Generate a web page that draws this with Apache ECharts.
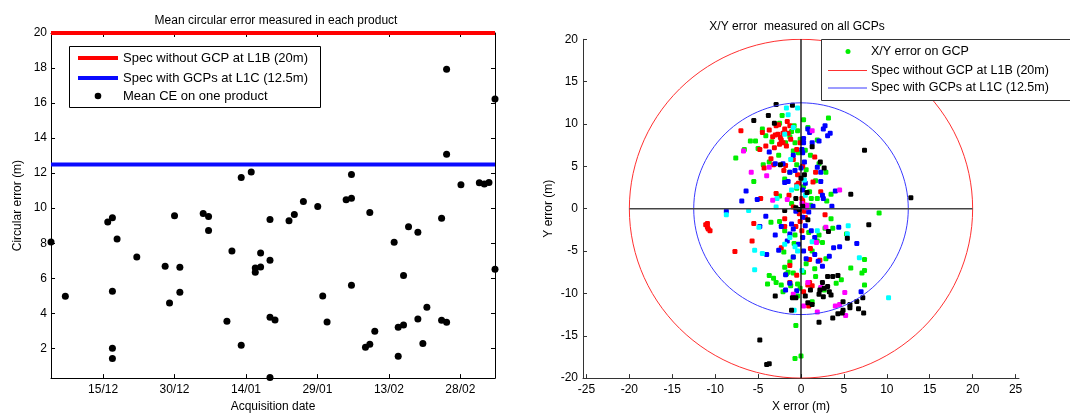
<!DOCTYPE html>
<html><head><meta charset="utf-8">
<script src="https://cdn.jsdelivr.net/npm/echarts@6/dist/echarts.min.js"></script>
<style>html,body{margin:0;padding:0;background:#fff;}#c{width:1070px;height:418px;}</style>
</head><body><div id="c"></div>
<script>
// ---------- Left chart data ----------
// Acquisition dates as day offsets from 15/12
const productDays = [-10.93,-7.92,0.98,1.96,2.94,1.96,1.96,1.96,7.08,13.03,13.95,15.0,16.12,16.12,21.02,22.14,22.14,26.0,27.05,29.0,29.0,31.1,31.95,31.95,33.07,33.07,35.04,35.04,35.04,36.09,35.04,39.03,40.15,42.05,45.06,46.11,47.02,51.02,52.14,52.14,52.14,55.08,55.99,55.99,57.04,61.1,61.95,61.95,63.07,63.07,64.12,66.08,66.08,67.13,67.97,71.06,71.06,72.11,72.11,72.11,75.12,78.98,80.03,81.0,82.27,82.27];
const productCE = [8.07,4.97,9.21,9.46,8.24,5.26,2.0,1.42,7.21,6.68,4.58,9.57,6.63,5.2,9.7,9.52,8.72,3.55,7.56,2.17,11.75,12.07,6.34,6.58,6.64,7.44,7.03,9.36,3.78,3.61,0.34,9.28,9.64,10.38,10.1,4.98,3.5,10.48,10.56,11.92,5.6,2.06,2.23,9.76,2.98,8.06,1.55,3.2,3.33,6.16,8.94,8.62,3.67,2.28,4.34,9.42,3.6,3.49,17.93,13.08,11.34,11.45,11.38,11.47,16.23,6.52];
const dateTickDays = [0,15,30,45,60,75];
const dateTickLabels = ['15/12','30/12','14/01','29/01','13/02','28/02'];
const ceTicks = [2,4,6,8,10,12,14,16,18,20];
const specL1B = 20;
const specL1C = 12.5;

// ---------- Right chart data (X/Y error in m) ----------
const gcpGreen = [[3.2,10.7],[0.3,10.5],[-2.2,11.0],[-2.5,10.1],[-4.5,9.4],[-4.1,8.6],[-5.3,8.0],[-5.9,8.0],[-6.6,7.0],[-7.6,6.0],[-5.0,7.1],[-3.4,7.9],[-1.1,9.1],[-0.8,9.8],[-0.4,9.2],[-1.3,8.5],[-1.8,7.8],[-0.7,7.8],[-0.1,8.2],[-0.9,6.8],[-0.3,6.6],[0.5,6.9],[1.9,8.1],[1.1,6.3],[2.1,5.3],[2.9,4.3],[1.7,3.3],[3.5,1.7],[3.0,0.9],[1.9,1.2],[1.0,2.0],[0.3,2.6],[-0.5,2.4],[-1.9,3.5],[-1.3,4.3],[-2.6,6.3],[-3.7,5.5],[-4.4,5.2],[-5.5,3.2],[-2.5,1.5],[1.1,0.4],[9.1,-0.5],[-2.5,-1.5],[-3.5,-1.6],[-1.9,-2.6],[-0.7,-3.1],[2.1,-3.1],[2.8,-2.3],[3.5,-1.2],[3.7,-2.3],[1.9,-3.8],[2.5,-4.0],[1.3,-5.0],[2.9,-5.9],[5.3,-3.0],[5.8,-7.0],[7.4,-6.0],[7.1,-7.6],[7.4,-7.3],[7.4,-9.0],[4.7,-8.4],[4.1,-8.8],[2.7,-9.6],[1.7,-8.0],[1.6,-7.1],[0.3,-7.5],[-0.9,-7.6],[-1.5,-7.5],[-1.9,-6.9],[-1.7,-7.7],[-3.7,-7.9],[-3.2,-8.2],[-2.9,-8.7],[-2.3,-9.0],[-3.9,-8.9],[-2.1,-9.8],[-1.2,-9.1],[-0.4,-8.9],[-0.1,-9.4],[-0.6,-13.8],[-0.7,-17.7],[0.0,-17.4],[-1.3,-6.3],[-0.9,-5.7],[-2.0,-5.1],[0.6,4.6],[-0.5,5.2],[0.8,9.6],[1.2,1.2],[-1.1,0.6],[0.9,-2.8],[-0.8,-4.1],[0.6,-6.5],[-0.4,-10.3],[1.3,-11.0]];
const gcpRed = [[-7.0,9.2],[-4.5,9.0],[-3.7,9.3],[-3.3,8.5],[-2.7,8.8],[-2.4,8.4],[-2.1,8.9],[-2.9,9.8],[-2.6,9.9],[-1.6,10.3],[-1.3,9.8],[-1.9,9.4],[-1.5,8.9],[-1.2,8.2],[-4.1,7.4],[-4.8,7.0],[-2.1,7.8],[-3.1,7.2],[-1.7,7.4],[-3.5,5.9],[-4.3,4.8],[-3.2,5.2],[-2.0,4.5],[-1.8,5.1],[-0.9,5.8],[-0.5,7.0],[-0.1,7.8],[1.6,6.1],[1.7,4.3],[1.4,3.15],[-4.7,1.2],[-2.9,1.8],[-0.5,2.8],[-1.4,1.6],[0.1,1.2],[2.3,2.0],[0.5,0.4],[-0.9,0.2],[-11.1,-1.9],[-10.9,-2.2],[-10.6,-2.6],[-10.9,-1.75],[-10.8,-2.4],[-5.5,-1.75],[-5.7,-3.8],[-7.7,-5.05],[-1.9,-2.1],[-0.6,-2.1],[0.1,-2.6],[-0.1,-1.5],[0.5,-1.05],[2.8,-0.7],[1.1,-4.7],[-2.3,-4.6],[1.0,-6.0],[2.2,-6.1],[-1.3,-6.7],[-0.5,-7.85],[-1.3,-8.7],[1.0,-8.7],[1.3,-9.1],[0.8,-9.0],[0.9,-11.5],[0.3,-9.8],[-1.9,-1.2],[0.2,5.0],[-0.3,3.0],[0.4,-0.3],[-0.2,-0.6],[-2.3,8.1],[-3.0,8.7],[-2.5,7.6],[0.2,0.9],[-0.4,4.0]];
const gcpBlue = [[2.6,9.4],[2.8,9.8],[3.1,8.6],[3.4,8.9],[2.1,8.0],[0.8,9.4],[1.0,9.0],[1.3,7.8],[0.3,7.8],[0.1,7.0],[-3.7,6.7],[-0.9,6.3],[-3.0,5.3],[-2.1,5.3],[-1.3,4.3],[-0.7,4.5],[1.9,4.9],[2.3,4.3],[2.3,3.2],[-1.5,3.2],[-1.9,3.1],[4.0,2.1],[2.5,1.6],[2.6,1.2],[-5.1,1.1],[-6.9,0.9],[-6.4,2.1],[-8.7,-0.3],[-4.1,-0.9],[-4.8,-2.1],[-3.0,-3.1],[-2.3,-2.1],[-1.1,-1.8],[-0.9,-2.4],[-1.3,-3.0],[0.2,-3.4],[1.2,-2.6],[1.6,-3.4],[-1.6,-3.8],[-2.6,-4.9],[-0.3,-4.2],[1.6,-5.4],[0.3,-5.0],[-0.9,-5.7],[2.0,-6.2],[2.5,-6.8],[3.3,-5.6],[3.8,-4.6],[4.5,-4.5],[6.5,-4.1],[4.4,-2.2],[3.6,0.3],[-4.0,-5.4],[-1.8,-7.8],[-1.3,-8.8],[-1.8,-9.6],[-0.5,-9.7],[0.6,-5.9],[7.0,-9.8],[0.3,8.3],[0.2,6.6],[0.4,5.5],[0.0,4.8],[0.5,3.0],[0.2,2.2],[0.6,0.2],[0.9,-0.4],[0.2,-1.0],[1.4,0.3],[-0.6,-0.3],[0.5,-2.0]];
const gcpCyan = [[-1.7,11.9],[-0.4,11.9],[-1.5,11.1],[-0.9,9.6],[-1.9,8.8],[-2.8,1.2],[-1.1,2.2],[-0.5,2.6],[-2.9,0.2],[0.5,1.6],[-8.7,-0.7],[-6.1,-0.2],[-4.9,-2.2],[-5.4,-4.9],[-5.4,-7.2],[-4.5,-5.3],[5.5,-2.0],[5.4,-3.0],[6.8,-5.8],[10.2,-10.5],[1.9,-2.6],[1.3,-3.9],[-0.7,-4.5],[-0.4,-5.0],[-1.3,-3.4],[-0.8,-12.0],[0.1,-7.3],[-1.9,-4.2],[-1.2,5.8],[0.4,3.4]];
const gcpMagenta = [[-5.8,4.3],[-6.7,6.8],[-4.0,3.9],[-3.3,1.0],[-1.6,1.1],[4.5,2.2],[-3.7,4.9],[0.7,0.4],[0.1,0.6],[1.3,9.2],[2.9,-2.2],[2.3,-9.3],[0.8,-8.7],[5.1,-9.9],[4.0,-11.5],[4.5,-11.3],[5.2,-12.6],[1.9,-12.2],[-0.9,-10.1],[0.3,-11.5],[1.8,-4.0],[0.6,0.1]];
const gcpBlack = [[-2.9,12.3],[-1.0,12.2],[-5.5,10.4],[-3.8,11.0],[-3.1,10.1],[7.4,6.9],[1.3,7.3],[2.25,5.5],[2.7,4.8],[-2.4,5.2],[0.4,4.0],[0.0,3.6],[5.8,1.7],[12.8,1.3],[0.7,1.9],[-0.6,1.2],[-1.9,-0.2],[-0.6,0.1],[7.9,-1.9],[3.2,-2.7],[5.4,-3.5],[0.8,-1.3],[3.1,-8.0],[3.7,-8.0],[4.3,-7.9],[2.5,-8.7],[2.2,-9.6],[2.7,-9.4],[3.1,-9.2],[3.3,-9.8],[3.5,-10.2],[2.6,-10.4],[2.1,-10.1],[1.1,-9.6],[0.5,-10.3],[-1.0,-10.5],[-0.6,-10.5],[-3.0,-10.3],[0.8,-11.1],[1.3,-11.3],[4.9,-11.0],[5.7,-11.3],[5.7,-11.7],[6.5,-10.95],[7.2,-10.5],[6.7,-11.8],[7.3,-12.3],[4.3,-12.4],[4.8,-12.3],[3.7,-12.9],[4.9,-12.0],[-1.1,-12.0],[2.1,-13.4],[-4.8,-15.5],[-4.0,-18.4],[-3.7,-18.3],[0.2,0.3],[-0.2,-0.1]];
const xyTicks = [-25,-20,-15,-10,-5,0,5,10,15,20,25];
const specRadii = [20, 12.5];

// ---------- build ----------
const FONT = 'Liberation Sans, Arial, sans-serif';
const xMin = Math.min(...productDays), xMax = Math.max(...productDays);
const ceMin = 0.3;
function circle(r){const p=[];for(let i=0;i<=120;i++){const a=i/120*2*Math.PI;p.push([r*Math.cos(a), r*Math.sin(a)]);}return p;}
const axisCommon = {axisLine:{onZero:false,lineStyle:{color:'#000',width:1}}, splitLine:{show:false},
  axisLabel:{color:'#000',fontSize:12,fontFamily:FONT}, nameTextStyle:{color:'#000',fontSize:12,fontFamily:FONT}};
const axisLineGray = {onZero:false,lineStyle:{color:'#333',width:1}};
function sc(data,color){return {type:'scatter',xAxisIndex:2,yAxisIndex:2,data:data,symbol:'roundRect',symbolSize:5,itemStyle:{color:color,opacity:1},clip:false,silent:true};}

const chart = echarts.init(document.getElementById('c'));
chart.setOption({
  animation:false, backgroundColor:'#fff',
  title:[
    {text:'Mean circular error measured in each product', left:271, top:10, textAlign:'center', textStyle:{fontSize:12,fontWeight:'normal',color:'#000',fontFamily:FONT}},
    {text:'X/Y error  measured on all GCPs', left:792, top:16, textAlign:'center', textStyle:{fontSize:12,fontWeight:'normal',color:'#000',fontFamily:FONT}}
  ],
  grid:[{left:51,top:33,width:444,height:350},{left:583,top:39.3,width:436,height:343.4}],
  xAxis:[
    Object.assign({}, axisCommon, {type:'value',gridIndex:0,min:xMin,max:xMax,name:'Acquisition date',nameLocation:'middle',nameGap:22,
      axisTick:{inside:true,length:4,customValues:dateTickDays,lineStyle:{color:'#000'}},
      axisLabel:Object.assign({}, axisCommon.axisLabel,{margin:6,customValues:dateTickDays,formatter:v=>dateTickLabels[dateTickDays.indexOf(v)]||''})}),
    Object.assign({}, axisCommon, {type:'value',gridIndex:0,position:'top',min:xMin,max:xMax,
      axisTick:{inside:true,length:4,customValues:dateTickDays,lineStyle:{color:'#000'}},axisLabel:{show:false}}),
    Object.assign({}, axisCommon, {type:'value',gridIndex:1,min:-25.4,max:25.4,name:'X error (m)',nameLocation:'middle',nameGap:22,
      axisLine:axisLineGray,
      axisTick:{inside:true,length:4,customValues:xyTicks,lineStyle:{color:'#333'}},
      axisLabel:Object.assign({}, axisCommon.axisLabel,{margin:6,customValues:xyTicks})})
  ],
  yAxis:[
    Object.assign({}, axisCommon, {type:'value',gridIndex:0,min:ceMin,max:20,name:'Circular error (m)',nameLocation:'middle',nameGap:27,
      axisTick:{inside:true,length:4,customValues:ceTicks,lineStyle:{color:'#000'}},
      axisLabel:Object.assign({}, axisCommon.axisLabel,{margin:4,customValues:ceTicks})}),
    Object.assign({}, axisCommon, {type:'value',gridIndex:0,position:'right',min:ceMin,max:20,
      axisTick:{inside:true,length:4,customValues:ceTicks,lineStyle:{color:'#000'}},axisLabel:{show:false}}),
    Object.assign({}, axisCommon, {type:'value',gridIndex:1,min:-20,max:20,interval:5,name:'Y error (m)',nameLocation:'middle',nameGap:28,
      axisLine:axisLineGray,
      axisTick:{inside:true,length:4,lineStyle:{color:'#333'}},
      axisLabel:Object.assign({}, axisCommon.axisLabel,{margin:5})})
  ],
  series:[
    {type:'line',xAxisIndex:0,yAxisIndex:0,data:[[xMin,specL1B],[xMax,specL1B]],symbol:'none',clip:false,lineStyle:{color:'#ff0000',width:4},silent:true},
    {type:'line',xAxisIndex:0,yAxisIndex:0,data:[[xMin,specL1C],[xMax,specL1C]],symbol:'none',clip:false,lineStyle:{color:'#0a0aff',width:4},silent:true},
    {type:'scatter',xAxisIndex:0,yAxisIndex:0,data:productDays.map((d,i)=>[d,productCE[i]]),symbol:'circle',symbolSize:7,itemStyle:{color:'#000',opacity:1},clip:false,silent:true},
    sc(gcpGreen,'#00ee00'), sc(gcpRed,'#ff0000'), sc(gcpBlue,'#0000ff'), sc(gcpCyan,'#00ffff'), sc(gcpMagenta,'#ff00ff'), sc(gcpBlack,'#000000'),
    {type:'line',xAxisIndex:2,yAxisIndex:2,data:circle(specRadii[0]),symbol:'none',clip:true,lineStyle:{color:'#ff3030',width:1},silent:true},
    {type:'line',xAxisIndex:2,yAxisIndex:2,data:circle(specRadii[1]),symbol:'none',clip:true,lineStyle:{color:'#3a3aff',width:1},silent:true},
    {type:'line',xAxisIndex:2,yAxisIndex:2,data:[[-20,0],[20,0]],symbol:'none',lineStyle:{color:'#444',width:1.5},silent:true},
    {type:'line',xAxisIndex:2,yAxisIndex:2,data:[[0,-20],[0,20]],symbol:'none',lineStyle:{color:'#000',width:1.3},silent:true}
  ],
  graphic:[
    // left legend
    {type:'rect',z:100,shape:{x:69.5,y:46.5,width:251,height:61},style:{fill:'#fff',stroke:'#000',lineWidth:1}},
    {type:'line',z:101,shape:{x1:78,y1:58,x2:118,y2:58},style:{stroke:'#ff0000',lineWidth:4}},
    {type:'text',z:101,x:123,y:58,style:{text:'Spec without GCP at L1B (20m)',fill:'#000',font:'13px '+FONT,verticalAlign:'middle'}},
    {type:'line',z:101,shape:{x1:78,y1:78,x2:118,y2:78},style:{stroke:'#0a0aff',lineWidth:4}},
    {type:'text',z:101,x:123,y:78,style:{text:'Spec with GCPs at L1C (12.5m)',fill:'#000',font:'13px '+FONT,verticalAlign:'middle'}},
    {type:'circle',z:101,shape:{cx:98,cy:96,r:3.3},style:{fill:'#000'}},
    {type:'text',z:101,x:123,y:96,style:{text:'Mean CE on one product',fill:'#000',font:'13px '+FONT,verticalAlign:'middle'}},
    // right legend
    {type:'rect',z:100,shape:{x:821.5,y:39.5,width:260,height:61},style:{fill:'#fff',stroke:'#333',lineWidth:1}},
    {type:'circle',z:101,shape:{cx:848,cy:51.5,r:2.5},style:{fill:'#00ee00'}},
    {type:'text',z:101,x:871,y:51.5,style:{text:'X/Y error on GCP',fill:'#000',font:'12.5px '+FONT,verticalAlign:'middle'}},
    {type:'line',z:101,shape:{x1:828,y1:70.5,x2:867,y2:70.5},style:{stroke:'#ff3030',lineWidth:1}},
    {type:'text',z:101,x:871,y:70.5,style:{text:'Spec without GCP at L1B (20m)',fill:'#000',font:'12.5px '+FONT,verticalAlign:'middle'}},
    {type:'line',z:101,shape:{x1:828,y1:88,x2:867,y2:88},style:{stroke:'#3a3aff',lineWidth:1}},
    {type:'text',z:101,x:871,y:88,style:{text:'Spec with GCPs at L1C (12.5m)',fill:'#000',font:'12.5px '+FONT,verticalAlign:'middle'}}
  ]
});
</script></body></html>
